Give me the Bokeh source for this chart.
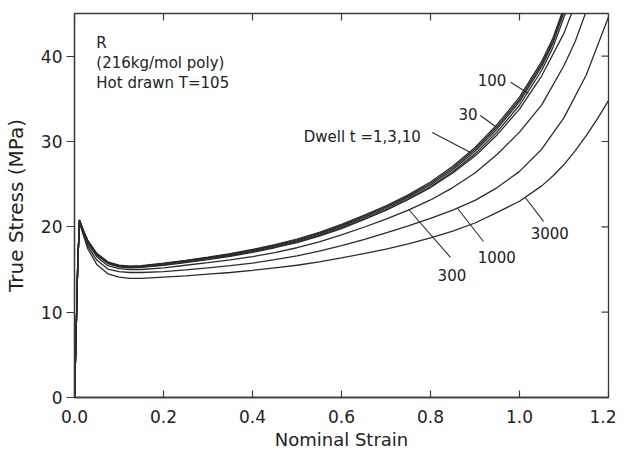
import math
from bokeh.plotting import figure
from bokeh.models import FixedTicker, PrintfTickFormatter, Range1d
from bokeh.embed import file_html
from bokeh.resources import INLINE
from bokeh.core.properties import value

# ---- data (nominal strain vs true stress, MPa) ----
strain_grid = [0, 0.003, 0.007, 0.011, 0.02, 0.03, 0.05, 0.075, 0.1, 0.125, 0.15,
               0.2, 0.25, 0.3, 0.35, 0.4, 0.45, 0.5, 0.55, 0.6, 0.65, 0.7, 0.75,
               0.8, 0.85, 0.9, 0.95, 1.0, 1.05]

dwell_times = ["1", "3", "10", "30", "100", "300", "1000", "3000"]

stress_t1 = [0, 6, 15, 20.8, 19.6, 18.4, 16.9, 15.9, 15.5, 15.4, 15.45,
             15.75, 16.08, 16.45, 16.87, 17.35, 17.9, 18.55, 19.35, 20.3, 21.35, 22.45, 23.75,
             25.25, 27.1, 29.3, 32.0, 35.2, 39.4]
tail_strain_t1 = [1.075, 1.095]
tail_stress_t1 = [42.1, 45.0]

stress_t3 = [0, 6, 15, 20.8, 19.55, 18.35, 16.85, 15.85, 15.45, 15.35, 15.4,
             15.7, 16.03, 16.4, 16.8, 17.28, 17.82, 18.46, 19.25, 20.18, 21.22, 22.3, 23.6,
             25.08, 26.9, 29.08, 31.75, 34.92, 39.1]
tail_strain_t3 = [1.075, 1.097]
tail_stress_t3 = [41.8, 45.0]

stress_t10 = [0, 6, 15, 20.8, 19.5, 18.3, 16.8, 15.8, 15.4, 15.3, 15.35,
              15.65, 15.97, 16.33, 16.73, 17.2, 17.73, 18.36, 19.14, 20.06, 21.08, 22.15, 23.45,
              24.9, 26.7, 28.85, 31.5, 34.65, 38.8]
tail_strain_t10 = [1.075, 1.099]
tail_stress_t10 = [41.5, 45.0]

stress_t30 = [0, 6, 15, 20.8, 19.5, 18.25, 16.75, 15.75, 15.35, 15.25, 15.3,
              15.55, 15.88, 16.25, 16.64, 17.1, 17.62, 18.24, 19.0, 19.9, 20.9, 21.95, 23.25,
              24.68, 26.45, 28.55, 31.15, 34.25, 38.35]
tail_strain_t30 = [1.075, 1.103]
tail_stress_t30 = [41.0, 45.0]

stress_t100 = [0, 6, 15, 20.75, 19.45, 18.2, 16.7, 15.7, 15.3, 15.2, 15.25,
               15.5, 15.8, 16.15, 16.55, 17.0, 17.55, 18.15, 18.9, 19.8, 20.85, 21.95, 23.2,
               24.6, 26.3, 28.3, 30.8, 33.8, 37.7]
tail_strain_t100 = [1.1, 1.117]
tail_stress_t100 = [42.7, 45.0]

stress_t300 = [0, 6, 15, 20.7, 19.4, 18.0, 16.5, 15.45, 15.1, 15.0, 15.0,
               15.2, 15.5, 15.8, 16.12, 16.5, 16.98, 17.55, 18.25, 19.05, 19.95, 20.9, 21.95,
               23.15, 24.6, 26.3, 28.5, 31.1, 34.3]
tail_strain_t300 = [1.1, 1.125, 1.148]
tail_stress_t300 = [38.9, 41.7, 45.0]

stress_t1000 = [0, 6, 15, 20.6, 19.2, 17.7, 16.1, 15.05, 14.75, 14.65, 14.65,
                14.75, 14.95, 15.2, 15.45, 15.75, 16.15, 16.6, 17.15, 17.8, 18.5, 19.3, 20.1,
                21.0, 21.95, 23.1, 24.6, 26.5, 29.1]
tail_strain_t1000 = [1.1, 1.15, 1.2]
tail_stress_t1000 = [32.8, 37.8, 44.6]

stress_t3000 = [0, 6, 15, 20.5, 19.0, 17.4, 15.6, 14.5, 14.1, 13.95, 13.95,
                14.1, 14.25, 14.45, 14.65, 14.9, 15.2, 15.5, 15.9, 16.35, 16.85, 17.4, 18.0,
                18.7, 19.5, 20.45, 21.7, 23.0, 24.8]
tail_strain_t3000 = [1.075, 1.1, 1.125, 1.15, 1.175, 1.2]
tail_stress_t3000 = [25.95, 27.3, 28.9, 30.7, 32.65, 34.8]

curves = [
    (stress_t1, tail_strain_t1, tail_stress_t1),
    (stress_t3, tail_strain_t3, tail_stress_t3),
    (stress_t10, tail_strain_t10, tail_stress_t10),
    (stress_t30, tail_strain_t30, tail_stress_t30),
    (stress_t100, tail_strain_t100, tail_stress_t100),
    (stress_t300, tail_strain_t300, tail_stress_t300),
    (stress_t1000, tail_strain_t1000, tail_stress_t1000),
    (stress_t3000, tail_strain_t3000, tail_stress_t3000),
]

x_ticks = [0.0, 0.2, 0.4, 0.6, 0.8, 1.0, 1.2]
y_ticks = [0, 10, 20, 30, 40]

# annotation labels and leader lines (data coordinates)
note_text = ["R", "(216kg/mol poly)", "Hot drawn T=105"]
note_x = [0.049, 0.049, 0.049]
note_y = [41.6, 39.25, 36.9]

label_text = ["Dwell t =1,3,10", "30", "100", "300", "1000", "3000"]
label_x = [0.515, 0.863, 0.906, 0.816, 0.906, 1.025]
label_y = [30.47, 33.28, 37.15, 14.41, 16.41, 19.22]
leader_x0 = [0.804, 0.912, 0.980, 0.751, 0.861, 1.013]
leader_y0 = [31.06, 33.05, 36.95, 22.03, 22.15, 23.44]
leader_x1 = [0.890, 0.946, 1.020, 0.845, 0.919, 1.054]
leader_y1 = [28.71, 31.76, 35.63, 16.41, 18.28, 20.63]

# ---- figure ----
FONT = "DejaVu Sans"
INK = "#2b2b2b"
TXT = "#222222"
FRAME = "#3a3a3a"

p = figure(width=616, height=453, x_range=Range1d(0, 1.2), y_range=Range1d(0, 45),
           output_backend="svg", toolbar_location=None,
           min_border_left=74, min_border_right=8, min_border_top=13, min_border_bottom=56)
p.outline_line_color = FRAME
p.outline_line_width = 1.3
p.grid.visible = False
p.background_fill_color = "white"

for stress, tx, ty in curves:
    p.line(strain_grid + tx, stress + ty, line_color=INK, line_width=1.3)

p.segment(x0=leader_x0, y0=leader_y0, x1=leader_x1, y1=leader_y1,
          line_color=INK, line_width=1.1)

p.text(x=note_x, y=note_y, text=note_text, text_font=value(FONT),
       text_font_size=value("15px"), text_align="left", text_baseline="middle",
       text_color=TXT)
p.text(x=label_x, y=label_y, text=label_text, text_font=value(FONT),
       text_font_size=value("15px"), text_align="left", text_baseline="middle",
       text_color=TXT)

# inward ticks on the top and right edges of the frame (at the axis tick values)
p.ray(x=x_ticks, y=[p.y_range.end] * len(x_ticks), length=7, length_units="screen",
      angle=-math.pi / 2, line_color=FRAME, line_width=1.2)
p.ray(x=[p.x_range.end] * len(y_ticks), y=y_ticks, length=7, length_units="screen",
      angle=math.pi, line_color=FRAME, line_width=1.2)

# bottom axis
xa = p.xaxis[0]
xa.ticker = FixedTicker(ticks=x_ticks)
xa.formatter = PrintfTickFormatter(format="%.1f")
xa.axis_label = "Nominal Strain"
xa.major_tick_in = 7
xa.major_tick_out = 0
xa.minor_tick_line_color = None
xa.major_label_standoff = 12
xa.axis_label_standoff = 3

# left axis
ya = p.yaxis[0]
ya.ticker = FixedTicker(ticks=y_ticks)
ya.formatter = PrintfTickFormatter(format="%d")
ya.axis_label = "True Stress (MPa)"
ya.major_tick_in = 0
ya.major_tick_out = 8
ya.minor_tick_line_color = None
ya.major_label_standoff = 4
ya.axis_label_standoff = 10

for ax in (xa, ya):
    ax.axis_line_color = FRAME
    ax.axis_line_width = 1.3
    ax.major_tick_line_color = FRAME
    ax.major_tick_line_width = 1.2
    ax.major_label_text_font = FONT
    ax.major_label_text_font_size = "17px"
    ax.major_label_text_color = TXT
    ax.axis_label_text_font = FONT
    ax.axis_label_text_font_style = "normal"
    ax.axis_label_text_color = TXT
xa.axis_label_text_font_size = "18px"
ya.axis_label_text_font_size = "20px"

open("out.html", "w").write(file_html(p, INLINE))
